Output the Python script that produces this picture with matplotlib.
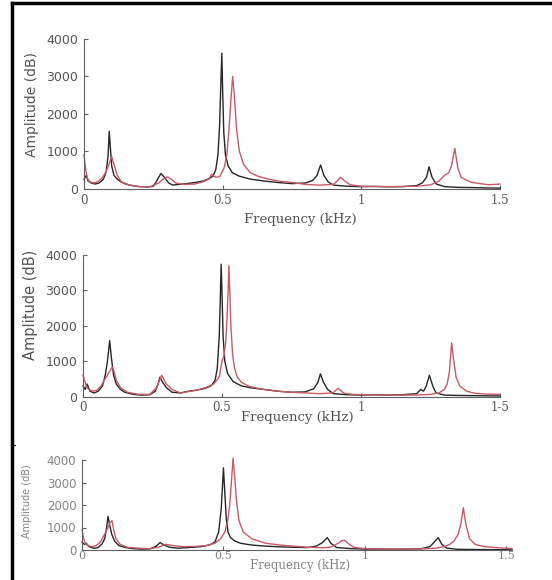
import matplotlib
matplotlib.use("Agg")
import matplotlib.pyplot as plt
from matplotlib.lines import Line2D

##### Valores (frequencia em kHz, amplitude) #####
# Painel 1
p1_black_f = [0, 0.008, 0.015, 0.025, 0.04, 0.055, 0.07, 0.08, 0.087, 0.091, 0.095, 0.1, 0.108, 0.12, 0.135,
              0.15, 0.17, 0.2, 0.23, 0.25, 0.262, 0.277, 0.29, 0.305, 0.32, 0.34, 0.37, 0.4, 0.43, 0.45, 0.465,
              0.475, 0.483, 0.489, 0.493, 0.497, 0.5, 0.504, 0.51, 0.52, 0.535, 0.56, 0.6, 0.65, 0.7, 0.75, 0.8,
              0.825, 0.84, 0.853, 0.865, 0.88, 0.9, 0.95, 1.0, 1.05, 1.1, 1.15, 1.2, 1.22, 1.235, 1.244, 1.255,
              1.27, 1.3, 1.35, 1.4, 1.45, 1.5]
p1_black_a = [250, 350, 200, 150, 120, 150, 250, 450, 900, 1530, 1100, 600, 350, 250, 170,
              120, 80, 50, 40, 60, 200, 400, 300, 150, 90, 110, 130, 160, 200, 260, 330,
              500, 900, 1700, 2700, 3620, 2600, 1500, 900, 600, 420, 330, 250, 200, 160, 130, 150,
              220, 350, 630, 350, 180, 90, 60, 50, 55, 45, 50, 80, 150, 300, 580, 300,
              120, 50, 30, 25, 15, 10]
p1_red_f = [0, 0.006, 0.012, 0.02, 0.035, 0.05, 0.065, 0.08, 0.09, 0.1, 0.11, 0.12, 0.135, 0.16, 0.2, 0.24,
            0.27, 0.285, 0.3, 0.315, 0.33, 0.36, 0.4, 0.43, 0.45, 0.46, 0.475, 0.49, 0.505, 0.515, 0.523, 0.53,
            0.536, 0.542, 0.55, 0.56, 0.575, 0.6, 0.63, 0.66, 0.7, 0.75, 0.8, 0.85, 0.9, 0.915, 0.925, 0.94,
            0.96, 1.0, 1.1, 1.2, 1.25, 1.28, 1.3, 1.315, 1.325, 1.337, 1.348, 1.36, 1.38, 1.4, 1.43, 1.46, 1.5]
p1_red_a = [900, 500, 280, 180, 150, 180, 280, 450, 650, 850, 600, 350, 180, 100, 50, 50,
            150, 250, 310, 250, 150, 110, 120, 180, 250, 380, 300, 320, 550, 900, 1600, 2400,
            3000, 2500, 1600, 1000, 650, 420, 320, 260, 200, 160, 110, 90, 110, 220, 300, 200,
            100, 60, 50, 60, 100, 200, 350, 420, 600, 1075, 550, 300, 220, 160, 130, 100, 120]

# Painel 2
p2_black_f = [0, 0.008, 0.015, 0.025, 0.04, 0.055, 0.07, 0.08, 0.088, 0.096, 0.102, 0.11, 0.12, 0.135, 0.15,
              0.18, 0.21, 0.24, 0.26, 0.27, 0.277, 0.285, 0.3, 0.32, 0.35, 0.38, 0.41, 0.44, 0.46, 0.475,
              0.483, 0.49, 0.494, 0.497, 0.5, 0.504, 0.51, 0.52, 0.54, 0.57, 0.6, 0.65, 0.7, 0.75, 0.8, 0.83,
              0.845, 0.854, 0.865, 0.88, 0.9, 0.95, 1.0, 1.05, 1.1, 1.15, 1.2, 1.215, 1.225, 1.235, 1.246,
              1.258, 1.27, 1.3, 1.35, 1.4, 1.45, 1.5]
p2_black_a = [300, 200, 350, 150, 100, 150, 300, 600, 1000, 1580, 1100, 600, 350, 200, 120,
              60, 40, 50, 150, 350, 550, 420, 250, 120, 100, 150, 180, 230, 300, 450,
              800, 1700, 2800, 3740, 2900, 1700, 1000, 650, 420, 300, 250, 200, 150, 120, 130, 220,
              400, 640, 400, 200, 80, 50, 40, 50, 40, 50, 80, 200, 150, 300, 600,
              300, 100, 40, 30, 25, 20, 15]
p2_red_f = [0, 0.006, 0.012, 0.02, 0.035, 0.05, 0.065, 0.08, 0.095, 0.105, 0.112, 0.12, 0.135, 0.16, 0.2,
            0.24, 0.265, 0.275, 0.283, 0.29, 0.3, 0.32, 0.35, 0.38, 0.41, 0.44, 0.47, 0.49, 0.5, 0.507, 0.513,
            0.518, 0.522, 0.525, 0.528, 0.532, 0.538, 0.545, 0.555, 0.57, 0.6, 0.65, 0.7, 0.75, 0.8, 0.85,
            0.9, 0.91, 0.917, 0.925, 0.94, 0.97, 1.0, 1.1, 1.2, 1.25, 1.28, 1.3, 1.31, 1.318, 1.326, 1.334,
            1.342, 1.355, 1.38, 1.41, 1.45, 1.5]
p2_red_a = [600, 450, 300, 200, 150, 180, 300, 500, 700, 830, 700, 450, 250, 120, 60,
            60, 250, 450, 600, 500, 350, 200, 100, 140, 180, 250, 350, 550, 1000, 1150, 1500,
            2200, 3000, 3700, 3000, 2000, 1200, 800, 550, 400, 280, 200, 150, 120, 100, 80,
            100, 180, 230, 180, 90, 60, 50, 40, 40, 60, 100, 200, 350, 700, 1514, 1000,
            550, 300, 150, 90, 70, 60]

# Painel 3
p3_black_f = [0, 0.008, 0.015, 0.025, 0.04, 0.055, 0.07, 0.08, 0.086, 0.092, 0.098, 0.105, 0.115, 0.13, 0.15,
              0.18, 0.21, 0.24, 0.26, 0.276, 0.29, 0.31, 0.34, 0.38, 0.42, 0.45, 0.47, 0.483, 0.492, 0.5,
              0.505, 0.51, 0.516, 0.525, 0.54, 0.56, 0.6, 0.65, 0.7, 0.75, 0.8, 0.83, 0.85, 0.867, 0.88, 0.9,
              0.95, 1.0, 1.05, 1.1, 1.15, 1.2, 1.23, 1.245, 1.259, 1.272, 1.29, 1.33, 1.4, 1.45, 1.5, 1.52]
p3_black_a = [350, 250, 300, 150, 80, 100, 250, 500, 900, 1500, 1100, 700, 400, 200, 120,
              60, 40, 50, 150, 330, 220, 120, 80, 110, 150, 220, 350, 800, 1800, 3650,
              2500, 1400, 800, 550, 400, 300, 220, 170, 140, 120, 110, 180, 330, 550, 300, 110,
              60, 40, 40, 30, 40, 60, 150, 350, 550, 250, 80, 30, 20, 15, 10, 10]
p3_red_f = [0, 0.006, 0.012, 0.02, 0.035, 0.05, 0.065, 0.08, 0.092, 0.1, 0.106, 0.112, 0.12, 0.135, 0.16,
            0.2, 0.24, 0.27, 0.285, 0.295, 0.31, 0.33, 0.36, 0.4, 0.44, 0.47, 0.49, 0.505, 0.515, 0.522,
            0.528, 0.534, 0.54, 0.546, 0.555, 0.57, 0.6, 0.65, 0.7, 0.75, 0.8, 0.85, 0.88, 0.905, 0.92,
            0.929, 0.94, 0.96, 1.0, 1.1, 1.2, 1.25, 1.28, 1.3, 1.315, 1.33, 1.34, 1.348, 1.356, 1.37,
            1.39, 1.42, 1.46, 1.5, 1.52]
p3_red_a = [900, 500, 300, 200, 150, 200, 350, 700, 1000, 1250, 1300, 900, 500, 250, 120,
            80, 60, 120, 200, 250, 220, 180, 150, 160, 200, 300, 500, 800, 1300, 2000,
            3000, 4080, 3200, 2200, 1300, 800, 500, 300, 220, 170, 120, 100, 130, 300, 420,
            430, 300, 120, 60, 40, 50, 80, 150, 250, 400, 700, 1200, 1880, 1200, 500,
            250, 150, 110, 80, 60]

y_ticks = [0, 1000, 2000, 3000, 4000]
x_ticks = [0, 0.5, 1, 1.5]
x_labels_p1 = ["0", "0.5", "1", "1.5"]
x_labels_p2 = ["0", "0.5", "1", "1-5"]
x_labels_p3 = ["0", "0.5", "1", "1.5"]

##### Configuracao da figura #####
W, H = 552, 580
fig = plt.figure(figsize=(W / 100, H / 100), dpi=100)
fig.patch.set_facecolor("white")

def caixa(esq, dir, topo, base):
    # posicao do eixo em pixels -> fracao da figura
    return [esq / W, 1 - base / H, (dir - esq) / W, (base - topo) / H]

paineis = [
    dict(rect=caixa(84, 500, 39, 188.5), xmax=1.5, preto=(p1_black_f, p1_black_a), verm=(p1_red_f, p1_red_a),
         xlab=x_labels_p1, cor="#555555", fs_y=9, fs_x=8.5, fs_lab=(10, 9.5),
         ylab_pos=(-0.125, 0.565), xlab_pos=(0.52, -0.21), pad=4),
    dict(rect=caixa(83, 500, 255, 396.5), xmax=1.5, preto=(p2_black_f, p2_black_a), verm=(p2_red_f, p2_red_a),
         xlab=x_labels_p2, cor="#555555", fs_y=9, fs_x=8.5, fs_lab=(10.5, 9.5),
         ylab_pos=(-0.125, 0.65), xlab_pos=(0.513, -0.15), pad=3),
    dict(rect=caixa(82, 512, 460, 550), xmax=1.52, preto=(p3_black_f, p3_black_a), verm=(p3_red_f, p3_red_a),
         xlab=x_labels_p3, cor="#858585", fs_y=8.5, fs_x=8, fs_lab=(7, 8.5),
         ylab_pos=(-0.127, 0.54), xlab_pos=(0.506, -0.175), pad=1),
]

for p in paineis:
    ax = fig.add_axes(p["rect"])
    ax.plot(*p["preto"], color="#262626", lw=1.0, clip_on=False)
    ax.plot(*p["verm"], color="#c85a66", lw=1.0, clip_on=False)
    ax.set_xlim(0, p["xmax"])
    ax.set_ylim(0, 4000)
    for s in ["top", "right"]:
        ax.spines[s].set_visible(False)
    for s in ["left", "bottom"]:
        ax.spines[s].set_color("#606060")
        ax.spines[s].set_linewidth(0.8)
    ax.set_yticks(y_ticks)
    ax.set_yticklabels([str(v) for v in y_ticks], fontsize=p["fs_y"], color=p["cor"], family="DejaVu Sans")
    ax.set_xticks(x_ticks)
    ax.set_xticklabels(p["xlab"], fontsize=p["fs_x"], color=p["cor"], family="DejaVu Serif")
    ax.tick_params(direction="in", length=3, width=0.8, color="#606060", pad=p["pad"])
    ax.tick_params(axis="y", pad=4)
    ax.set_ylabel("Amplitude (dB)", fontsize=p["fs_lab"][0], color=p["cor"], family="DejaVu Sans", va="center")
    ax.yaxis.set_label_coords(*p["ylab_pos"])
    ax.set_xlabel("Frequency (kHz)", fontsize=p["fs_lab"][1], color=p["cor"], family="DejaVu Serif", va="center")
    ax.xaxis.set_label_coords(*p["xlab_pos"])

#Moldura do recorte escaneado (borda superior e esquerda)
fig.add_artist(Line2D([11.5 / W, 1], [1 - 2.5 / H, 1 - 2.5 / H], color="black", lw=2.5, transform=fig.transFigure))
fig.add_artist(Line2D([11.5 / W, 11.5 / W], [0, 1 - 2.5 / H], color="black", lw=2.5, transform=fig.transFigure))
fig.add_artist(Line2D([11.5 / W, 15 / W], [1 - 445 / H, 1 - 445 / H], color="black", lw=0.8, transform=fig.transFigure))

plt.savefig("out.png", dpi=100)
